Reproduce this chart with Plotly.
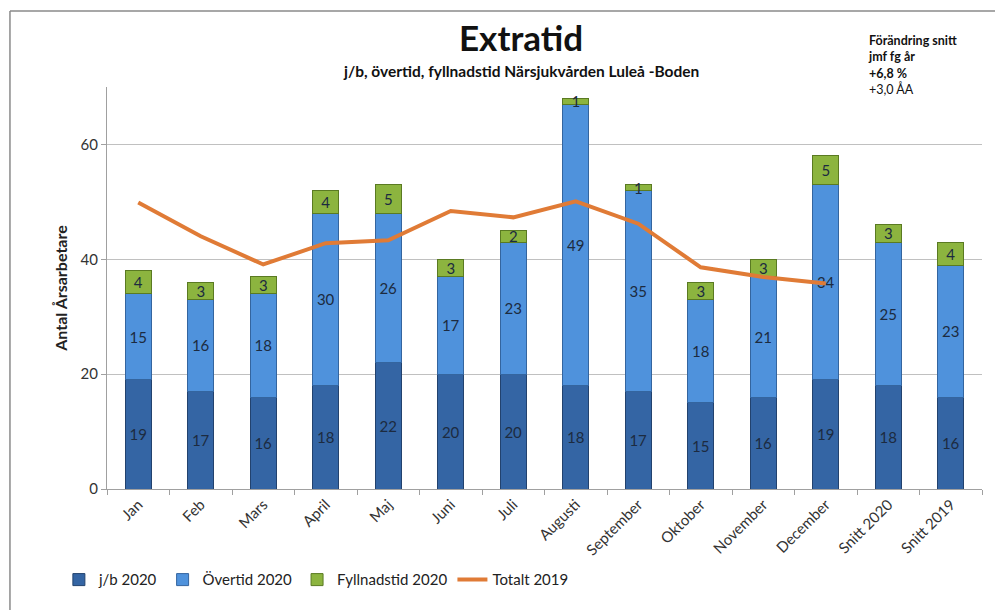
import plotly.graph_objects as go

categories = ["Jan", "Feb", "Mars", "April", "Maj", "Juni", "Juli", "Augusti",
              "September", "Oktober", "November", "December", "Snitt 2020", "Snitt 2019"]
jb_2020 = [19, 17, 16, 18, 22, 20, 20, 18, 17, 15, 16, 19, 18, 16]
overtid_2020 = [15, 16, 18, 30, 26, 17, 23, 49, 35, 18, 21, 34, 25, 23]
fyllnad_2020 = [4, 3, 3, 4, 5, 3, 2, 1, 1, 3, 3, 5, 3, 4]
totalt_2019 = [49.9, 44.0, 39.1, 42.8, 43.3, 48.4, 47.3, 50.1, 46.2, 38.6, 36.9, 35.8, None, None]

FONT = "Lato, 'Open Sans', sans-serif"
TXT = "#1c2b40"

def bar(y, name, color, line):
    return go.Bar(
        x=categories, y=y, name=name,
        marker=dict(color=color, line=dict(color=line, width=1)),
        text=y, textposition="inside", insidetextanchor="middle", textangle=0,
        textfont=dict(color=TXT, size=15, family=FONT), width=0.42,
    )

fig = go.Figure()
fig.add_trace(bar(jb_2020, "j/b 2020", "#3465a4", "#22426e"))
fig.add_trace(bar(overtid_2020, "Övertid 2020", "#4f92dc", "#34659f"))
fig.add_trace(bar(fyllnad_2020, "Fyllnadstid 2020", "#8cb43f", "#5a7a22"))
fig.add_trace(go.Scatter(
    x=categories, y=totalt_2019, name="Totalt 2019", mode="lines",
    line=dict(color="#e07b36", width=4),
))

fig.update_layout(
    barmode="stack",
    width=995, height=602,
    margin=dict(l=99, r=21, t=79, b=121, autoexpand=False),
    paper_bgcolor="white", plot_bgcolor="white",
    font=dict(family=FONT, size=14, color="#333333"),
    uniformtext=dict(mode="show", minsize=15),
    showlegend=True,
    legend=dict(orientation="h", x=-0.055, y=-0.226, xanchor="left", yanchor="middle",
                font=dict(size=15, color="#222222", family=FONT),
                traceorder="normal"),
    xaxis=dict(
        tickangle=-45, tickson="boundaries", ticks="outside", ticklen=5,
        tickcolor="#a0a0a0", showline=True, linecolor="#a0a0a0", linewidth=1,
        tickfont=dict(size=15, color="#333333", family=FONT), showgrid=False,
    ),
    yaxis=dict(
        range=[0, 70], tickvals=[0, 20, 40, 60], ticks="outside", ticklen=5,
        tickcolor="#a0a0a0", showline=True, linecolor="#a0a0a0", linewidth=1,
        showgrid=True, gridcolor="#c0c0c0", gridwidth=1, zeroline=False,
        tickfont=dict(size=15, color="#333333", family=FONT),
        title=dict(text="<b>Antal Årsarbetare</b>", font=dict(size=16, color="#222222", family=FONT),
                   standoff=8),
    ),
)

annotations = [
    dict(text="<b>Extratid</b>", x=0.473, y=1.125, xref="paper", yref="paper",
         showarrow=False, font=dict(size=35, color="#111111", family=FONT), yanchor="middle"),
    dict(text="<b>j/b, övertid, fyllnadstid Närsjukvården Luleå -Boden</b>", x=0.473, y=1.04,
         xref="paper", yref="paper", showarrow=False,
         font=dict(size=15.5, color="#111111", family=FONT), yanchor="middle"),
    dict(text="<b>Förändring snitt<br>jmf fg år<br>+6,8 %</b><br>+3,0 ÅA", x=0.867, y=1.055,
         xref="paper", yref="paper", showarrow=False, align="left", xanchor="left", yanchor="middle",
         font=dict(size=12.5, color="#111111", family=FONT)),
]
fig.update_layout(annotations=annotations)

fig.add_shape(type="line", xref="paper", yref="paper", x0=-0.1109, x1=1.03, y0=1.189, y1=1.189,
              line=dict(color="#8a8a8a", width=1.5))
fig.add_shape(type="line", xref="paper", yref="paper", x0=-0.1109, x1=-0.1109, y0=1.189, y1=-0.31,
              line=dict(color="#8a8a8a", width=1.5))

fig.write_html("out.html")
